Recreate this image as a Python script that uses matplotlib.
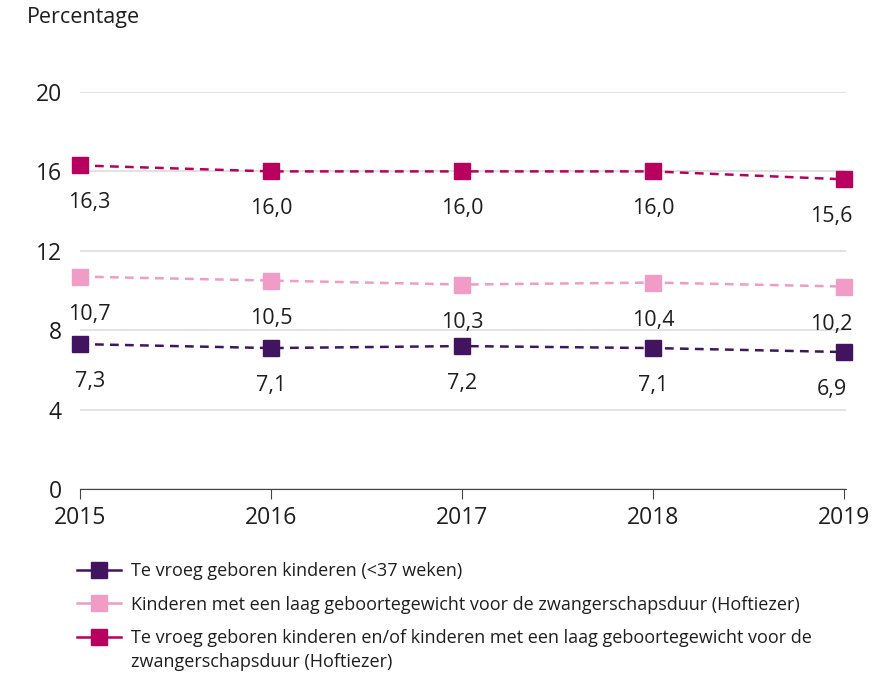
import matplotlib
matplotlib.use("Agg")
import matplotlib.pyplot as plt
from matplotlib.lines import Line2D

plt.rcParams["font.family"] = ["Open Sans", "DejaVu Sans"]

years = [2015, 2016, 2017, 2018, 2019]
preterm = [7.3, 7.1, 7.2, 7.1, 6.9]
low_weight = [10.7, 10.5, 10.3, 10.4, 10.2]
either = [16.3, 16.0, 16.0, 16.0, 15.6]

series_labels = [
    "Te vroeg geboren kinderen (<37 weken)",
    "Kinderen met een laag geboortegewicht voor de zwangerschapsduur (Hoftiezer)",
    "Te vroeg geboren kinderen en/of kinderen met een laag geboortegewicht voor de",
]
label_tail = "zwangerschapsduur (Hoftiezer)"
colors = ["#42145f", "#f19cc6", "#b8005f"]
y_ticks = [0, 4, 8, 12, 16, 20]

text_col = "#1e1e1e"
W, H = 878, 674

fig = plt.figure(figsize=(W / 100, H / 100), dpi=100)
ax = fig.add_axes([80 / W, 1 - 489 / H, 766 / W, 397 / H])

handles = []
for vals, col, lab in zip([preterm, low_weight, either], colors, series_labels):
    ax.plot(years, vals, color=col, linestyle=(0, (3.5, 2.5)), linewidth=1.8,
            zorder=3, clip_on=False)
    ax.plot(years, vals, color=col, linestyle="none", marker="s",
            markersize=12, zorder=4, clip_on=False)
    for i, (x, v) in enumerate(zip(years, vals)):
        dx = 7 if i == 0 else (-9 if i == len(years) - 1 else 0)
        ax.annotate(f"{v:.1f}".replace(".", ","), (x, v), xytext=(dx, -27),
                    textcoords="offset points", ha="center", va="center",
                    fontsize=15.5, color=text_col)
    handles.append(Line2D([0], [0], color=col, linewidth=1.8, marker="s",
                          markersize=12, label=lab))

ax.set_xlim(2015, 2019.01)
ax.set_ylim(0, 20)
ax.set_yticks(y_ticks)
ax.set_yticklabels([str(t) for t in y_ticks])
ax.set_xticks(years)
ax.set_xticklabels([str(y) for y in years])
ax.grid(axis="y", color="#dddddd", linewidth=1.2)
ax.set_axisbelow(True)
for side in ["top", "right", "left"]:
    ax.spines[side].set_visible(False)
ax.spines["bottom"].set_color("#444444")
ax.tick_params(axis="y", length=0, pad=13, labelsize=16.5, labelcolor=text_col)
ax.tick_params(axis="x", length=7, color="#444444", pad=5, labelsize=16.5,
               labelcolor=text_col)

fig.text(27 / W, 1 - 18 / H, "Percentage", fontsize=15.5, color=text_col,
         ha="left", va="center")

leg = fig.legend(handles=handles, loc="upper left",
                 bbox_to_anchor=(70 / W, 1 - 555 / H),
                 frameon=False, fontsize=13, handlelength=2.4, handletextpad=0.6,
                 labelspacing=0.85, labelcolor=text_col, borderaxespad=0)

# second line of the last legend entry, aligned under its first line
fig.canvas.draw()
bb = leg.get_texts()[2].get_window_extent()
fig.text(bb.x0 / W, ((bb.y0 + bb.y1) / 2 - 24) / H, label_tail, fontsize=13,
         color=text_col, ha="left", va="center")

fig.savefig("out.png", dpi=100)
